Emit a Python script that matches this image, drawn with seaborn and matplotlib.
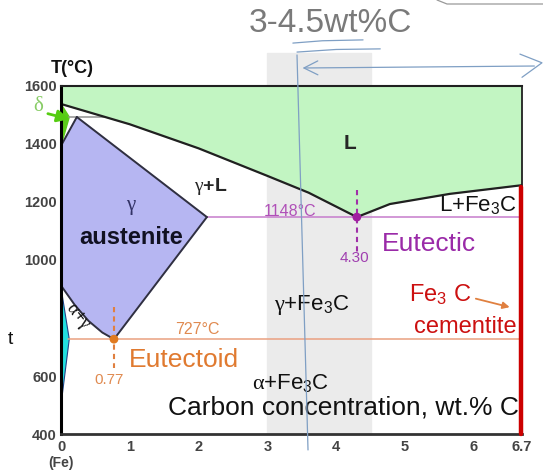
import numpy as np
import pandas as pd
import matplotlib
matplotlib.use("Agg")
import matplotlib.pyplot as plt
import seaborn as sns

# phase boundaries (wt.% C, deg C)
liq_left_c = [0.0, 1.0, 2.0, 3.0, 3.6, 4.3]
liq_left_t = [1538, 1468, 1385, 1290, 1232, 1148]
liq_right_c = [4.3, 4.78, 5.65, 6.7]
liq_right_t = [1148, 1193, 1228, 1258]

solidus_c = [0.23, 2.12]
solidus_t = [1493, 1148]
acm_c = [2.12, 0.77]
acm_t = [1148, 727]
a3_c = [0.77, 0.6, 0.4, 0.2, 0.0]
a3_t = [727, 750, 790, 845, 912]
delta_left_c = [0.0, 0.23]
delta_left_t = [1394, 1493]

delta_c = [0.0, 0.12, 0.0]
delta_t = [1538, 1493, 1394]
alpha_c = [0.0, 0.12, 0.0]
alpha_t = [905, 727, 500]

peritectic_t = 1493
eutectic_c, eutectic_t = 4.30, 1148
eutectoid_c, eutectoid_t = 0.77, 727
cementite_c = 6.7
cast_iron = (3.0, 4.5)

xticks = [0, 1, 2, 3, 4, 5, 6, 6.7]
xticklabels = ["0", "1", "2", "3", "4", "5", "6", "6.7"]
yticks = [400, 600, 1000, 1200, 1400, 1600]

sns.set_theme(style="white")
plt.rcParams["font.family"] = ["Liberation Sans", "DejaVu Sans"]
plt.rcParams["mathtext.fontset"] = "custom"
plt.rcParams["mathtext.rm"] = "Liberation Sans"
plt.rcParams["mathtext.bf"] = "Liberation Sans:bold"
plt.rcParams["mathtext.it"] = "Liberation Serif"

fig = plt.figure(figsize=(5.43, 4.74), dpi=100)
ax = fig.add_axes([61 / 543, 40 / 474, 461 / 543, 348 / 474])
ax.set_xlim(0, 6.7)
ax.set_ylim(400, 1600)

# cast iron band, sticks out above the frame
ax.axvspan(*cast_iron, ymin=0, ymax=1.095, color="#ebebeb", zorder=0, clip_on=False)

# liquid region
lc = liq_left_c + liq_right_c[1:] + [6.7, 0.0]
lt = liq_left_t + liq_right_t[1:] + [1600, 1600]
ax.fill(lc, lt, color="#c2f5c2", zorder=1)

# austenite region
gc = delta_left_c + solidus_c[1:] + acm_c[1:] + a3_c[1:]
gt = delta_left_t + solidus_t[1:] + acm_t[1:] + a3_t[1:]
ax.fill(gc, gt, color="#b6b6f2", zorder=1)

ax.fill(delta_c, delta_t, color="#5ccc1a", zorder=2)
ax.fill(alpha_c, alpha_t, color="#22e0e0", edgecolor="#224488", lw=0.8, zorder=2)

# boundaries
lines = pd.DataFrame({
    "c": liq_left_c + liq_right_c,
    "t": liq_left_t + liq_right_t,
    "seg": ["liq"] * len(liq_left_c) + ["liq2"] * len(liq_right_c),
})
for seg, d in lines.groupby("seg"):
    sns.lineplot(data=d, x="c", y="t", sort=False, estimator=None,
                 color="#202020", lw=1.6, ax=ax, zorder=4)
for cs, ts in [(solidus_c, solidus_t), (acm_c, acm_t), (a3_c, a3_t), (delta_left_c, delta_left_t)]:
    sns.lineplot(x=cs, y=ts, sort=False, estimator=None, color="#303040", lw=1.4, ax=ax, zorder=4)
ax.plot([0.12, 0.62], [peritectic_t] * 2, color="#999999", lw=1.2, zorder=3)

# invariant lines
ax.plot([2.12, 6.7], [eutectic_t] * 2, color="#c67ccc", lw=1.1, zorder=3)
ax.plot([0.1, 6.7], [eutectoid_t] * 2, color="#eaa080", lw=1.1, zorder=3)
ax.plot([eutectic_c] * 2, [1241, 1017], color="#a030a8", lw=1.5, ls=(0, (2.5, 2)), zorder=5)
ax.plot([eutectoid_c] * 2, [838, 628], color="#e08040", lw=1.5, ls=(0, (2.5, 2)), zorder=5)
sns.scatterplot(x=[eutectic_c], y=[eutectic_t], color="#a020a0", s=40, ax=ax, zorder=6, edgecolor="none")
sns.scatterplot(x=[eutectoid_c], y=[eutectoid_t], color="#e07a20", s=40, ax=ax, zorder=6, edgecolor="none")

# cementite
ax.plot([cementite_c - 0.01] * 2, [400, 1252], color="#cc0000", lw=3.2, zorder=9, clip_on=False)

# frame and ticks
for side, lw, col in [("left", 2.2, "black"), ("bottom", 2.0, "#333333"),
                      ("top", 1.5, "#202020"), ("right", 1.3, "#202020")]:
    ax.spines[side].set_linewidth(lw)
    ax.spines[side].set_color(col)
    ax.spines[side].set_zorder(7)
ax.set_xticks(xticks)
ax.set_xticklabels(xticklabels)
ax.set_yticks(yticks)
ax.tick_params(direction="in", length=7, width=1, color="#888888", pad=3)
ax.tick_params(axis="x", pad=4)
for lab in ax.get_xticklabels() + ax.get_yticklabels():
    lab.set_fontsize(10.5)
    lab.set_fontweight("bold")
    lab.set_color("#444444")
ax.set_xlabel("")
ax.set_ylabel("")

# labels
ax.text(0.16, 1662, "T(°C)", fontsize=13, fontweight="bold", color="#111111",
        ha="center", va="center", clip_on=False)
ax.text(0.0, 300, "(Fe)", fontsize=10, fontweight="bold", color="#444444",
        ha="center", va="center", clip_on=False)
ax.text(4.20, 1403, "L", fontsize=15, fontweight="bold", ha="center", va="center", zorder=8)
ax.text(2.17, 1252, r"$\gamma$+L", fontsize=14, fontweight="bold", ha="center", va="center", zorder=8)
ax.text(1.03, 1180, r"$\gamma$", fontsize=15, color="#333366", ha="center", va="center", zorder=8)
ax.text(1.02, 1076, "austenite", fontsize=17, fontweight="bold", color="#111122",
        ha="center", va="center", zorder=8)
ax.text(6.06, 1190, r"L+Fe$_\mathregular{3}$C", fontsize=16, color="#111111",
        ha="center", va="center", zorder=8)
ax.text(3.65, 845, r"$\gamma$+Fe$_\mathregular{3}$C", fontsize=16, color="#111111",
        ha="center", va="center", zorder=8)
ax.text(3.34, 576, r"$\alpha$+Fe$_\mathregular{3}$C", fontsize=16, color="#111111",
        ha="center", va="center", zorder=8)
ax.text(4.10, 490, "Carbon concentration, wt.% C", fontsize=19, color="#111111",
        ha="center", va="center", zorder=8)
ax.text(5.35, 1055, "Eutectic", fontsize=19, color="#9a2aa8", ha="center", va="center", zorder=8)
ax.text(4.27, 1007, "4.30", fontsize=11, color="#a040b0", ha="center", va="center", zorder=8)
ax.text(3.33, 1166, "1148°C", fontsize=11.5, color="#b050b8", ha="center", va="center", zorder=8)
ax.text(1.78, 655, "Eutectoid", fontsize=19, color="#e07a30", ha="center", va="center", zorder=8)
ax.text(0.70, 586, "0.77", fontsize=11, color="#e08a50", ha="center", va="center", zorder=8)
ax.text(1.98, 759, "727°C", fontsize=11.5, color="#e08a50", ha="center", va="center", zorder=8)
ax.text(5.51, 879, r"Fe$_\mathregular{3}$ C", fontsize=17, color="#cc1010", ha="center", va="center", zorder=8)
ax.text(5.87, 769, "cementite", fontsize=17, color="#cc1010", ha="center", va="center", zorder=8)
ax.annotate("", xy=(6.56, 835), xytext=(5.99, 869), zorder=8,
            arrowprops=dict(arrowstyle="-|>", color="#e08040", lw=1.3, mutation_scale=10))
ax.text(0.24, 805, r"$\alpha$+$\gamma$", fontsize=13, rotation=-52, color="#111111",
        ha="center", va="center", zorder=8)
ax.text(-0.33, 1534, r"$\delta$", fontsize=15, color="#88cc66", ha="center", va="center", clip_on=False)
ax.annotate("", xy=(0.16, 1483), xytext=(-0.23, 1507), annotation_clip=False, zorder=8,
            arrowprops=dict(arrowstyle="-|>", color="#55cc11", lw=2, mutation_scale=18))

fig.text(10 / 543, 1 - 340 / 474, "t", fontsize=14, color="#111111", ha="center", va="center")
fig.text(330 / 543, 1 - 23 / 474, "3-4.5wt%C", fontsize=24, color="#7a7a7a", ha="center", va="center")

# hand-drawn marks
hand = "#7f9fc4"
ax.plot([3.43, 3.59], [1707, 345], color=hand, lw=0.9, clip_on=False, zorder=9)
ax.annotate("", xy=(3.47, 1662), xytext=(6.92, 1669), annotation_clip=False, zorder=9,
            arrowprops=dict(arrowstyle="->", color=hand, lw=0.9, mutation_scale=25))
ax.plot([6.67, 6.99, 6.70], [1710, 1680, 1630], color=hand, lw=0.9, clip_on=False, zorder=9)
ax.plot([3.37, 3.8, 4.39], [1748, 1756, 1759], color=hand, lw=0.9, clip_on=False, zorder=9)
ax.plot([3.43, 4.0, 4.64], [1717, 1726, 1728], color=hand, lw=0.9, clip_on=False, zorder=9)
fig.add_artist(plt.Line2D([437 / 543, 447 / 543, 543 / 543], [1.0, 1 - 4 / 474, 1 - 4 / 474],
                          color="#999999", lw=0.9))

fig.savefig("out.png", dpi=100)
